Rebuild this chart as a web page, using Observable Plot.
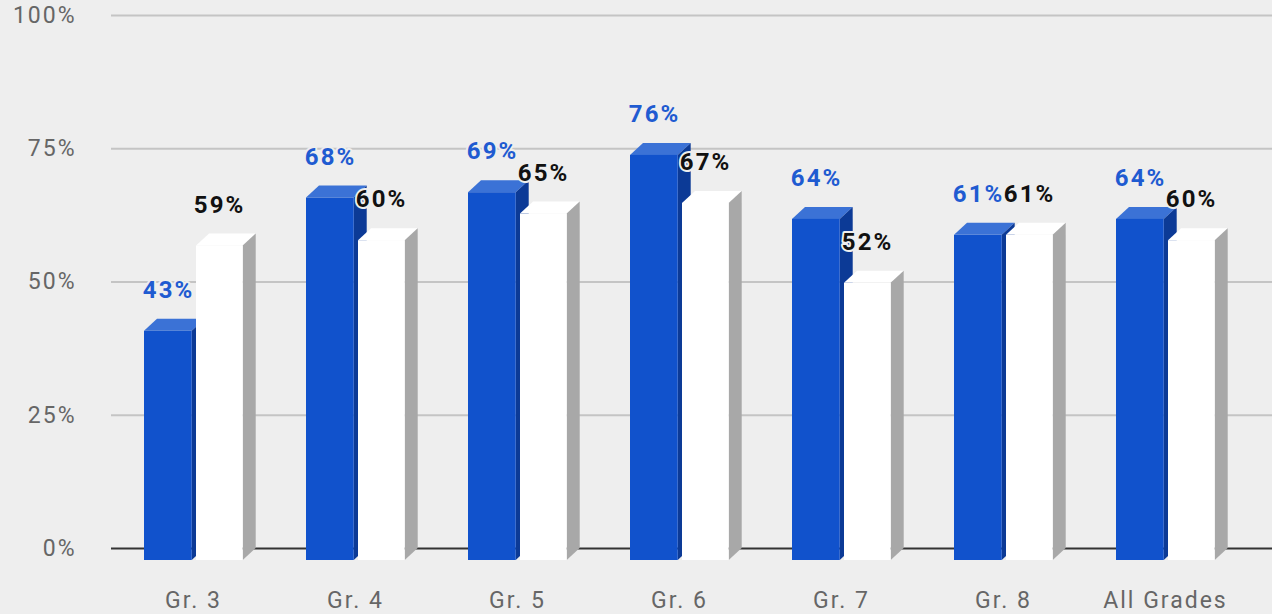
<!DOCTYPE html>
<html><head><meta charset="utf-8">
<script src="https://cdn.jsdelivr.net/npm/d3@7"></script>
<script src="https://cdn.jsdelivr.net/npm/@observablehq/plot@0.6"></script>
<style>
html,body{margin:0;padding:0;background:#eeeeee;}
#chart{width:1272px;height:614px;overflow:hidden;}
</style></head><body><div id="chart"></div>
<script>
const grades = ["Gr. 3", "Gr. 4", "Gr. 5", "Gr. 6", "Gr. 7", "Gr. 8", "All Grades"];
const blueValues = [0.43, 0.68, 0.69, 0.76, 0.64, 0.61, 0.64];
const whiteValues = [0.59, 0.60, 0.65, 0.67, 0.52, 0.61, 0.60];
const yTicks = [0, 0.25, 0.5, 0.75, 1];

const blue = grades.map((g, i) => ({grade: g, value: blueValues[i]}));
const white = grades.map((g, i) => ({grade: g, value: whiteValues[i]}));

const DEPTH_X = 13, DEPTH_Y = 12;
const fmt = d3.format(".0%");

function faces(data, insetL, insetR, topColor, sideColor) {
  return (index, scales) => {
    const x = scales.x, y = scales.y;
    const bw = typeof x.bandwidth === "function" ? x.bandwidth() : x.bandwidth;
    const g = d3.create("svg:g");
    for (const d of data) {
      const L = x(d.grade) + insetL;
      const R = x(d.grade) + bw - insetR;
      const yt = y(d.value), y0 = y(0);
      g.append("polygon")
        .attr("points", [[L, yt + DEPTH_Y], [L + DEPTH_X, yt], [R + DEPTH_X, yt], [R, yt + DEPTH_Y]].join(" "))
        .attr("fill", topColor);
      g.append("polygon")
        .attr("points", [[R, yt + DEPTH_Y], [R + DEPTH_X, yt], [R + DEPTH_X, y0], [R, y0 + DEPTH_Y]].join(" "))
        .attr("fill", sideColor);
    }
    return g.node();
  };
}

const BW = (1247 - 111) / 7;
const blueInL = 32, blueInR = BW - 80;
const whiteInL = 84, whiteInR = BW - 131;

const chart = Plot.plot({
  width: 1272,
  height: 614,
  marginLeft: 111,
  marginRight: 0,
  marginTop: 15,
  marginBottom: 66,
  style: {background: "#eeeeee", fontFamily: "Roboto", fontSize: "23px", color: "#666666", letterSpacing: "2px"},
  x: {domain: grades, range: [111, 1247], padding: 0, tickSize: 0, tickPadding: 43, label: null},
  y: {domain: [0, 1], ticks: yTicks, tickFormat: fmt, tickSize: 0, tickPadding: 35, label: null},
  marks: [
    Plot.ruleY(yTicks.slice(1), {stroke: "#c4c4c4", strokeWidth: 2}),
    Plot.ruleY([0], {stroke: "#333333", strokeWidth: 2}),
    faces(blue, blueInL, blueInR, "#3b72d6", "#0c3a96"),
    Plot.barY(blue, {x: "grade", y: "value", fill: "#1152cc", insetLeft: blueInL, insetRight: blueInR, dy: DEPTH_Y}),
    faces(white, whiteInL, whiteInR, "#ffffff", "#a8a8a8"),
    Plot.barY(white, {x: "grade", y: "value", fill: "#ffffff", insetLeft: whiteInL, insetRight: whiteInR, dy: DEPTH_Y}),
    Plot.text(blue, {x: "grade", y: "value", text: d => fmt(d.value), dx: -25, dy: -29, fill: "#1f5bd1", stroke: "#eeeeee", strokeWidth: 4, strokeLinejoin: "round", paintOrder: "stroke", fontWeight: "bold", fontSize: 24}),
    Plot.text(white, {x: "grade", y: "value", text: d => fmt(d.value), dx: 26, dy: -29, fill: "#111111", stroke: "#eeeeee", strokeWidth: 4, strokeLinejoin: "round", paintOrder: "stroke", fontWeight: "bold", fontSize: 24})
  ]
});
document.getElementById("chart").appendChild(chart);
</script>
</body></html>
